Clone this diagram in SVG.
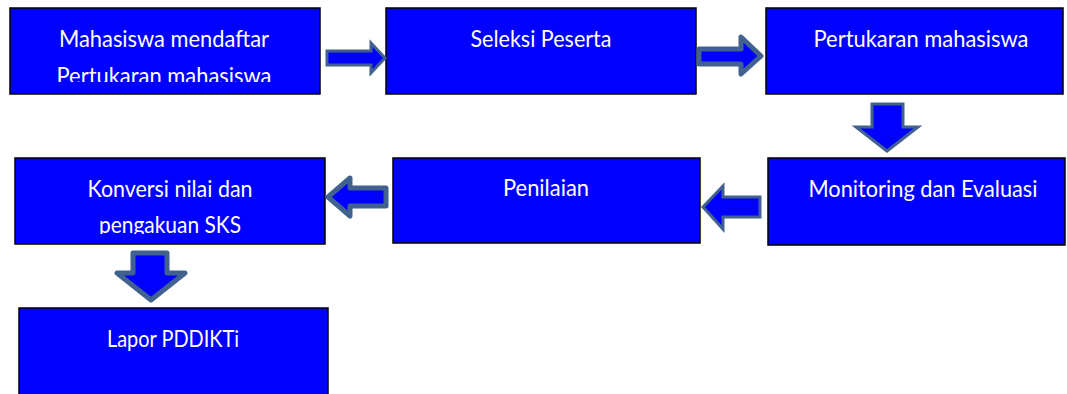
<svg xmlns="http://www.w3.org/2000/svg" width="1067" height="394" viewBox="0 0 1067 394">
<style>
.box{fill:#0000ff;stroke:#000;stroke-width:1.5}
.t{fill:#fff;font-family:Lato,"Open Sans","Liberation Sans",sans-serif;font-size:24px;text-anchor:middle}
.arr{fill:#0000ff;stroke:#41618f;stroke-width:3;stroke-linejoin:miter}
.arr2{fill:#0000ff;stroke:#41618f;stroke-width:5;stroke-linejoin:round}
</style>
<defs>
<clipPath id="c1"><rect x="10" y="8" width="310" height="74"/></clipPath>
<clipPath id="c4"><rect x="15" y="158" width="310" height="76"/></clipPath>
</defs>
<rect width="1067" height="394" fill="#fff"/>
<g id="n1">
<rect class="box" x="10" y="8" width="310" height="86"/>
<g clip-path="url(#c1)">
<text class="t" x="164" y="47" textLength="210" lengthAdjust="spacingAndGlyphs">Mahasiswa mendaftar</text>
<text class="t" x="164" y="84" textLength="215" lengthAdjust="spacingAndGlyphs">Pertukaran mahasiswa</text>
</g>
</g>
<g id="n2">
<rect class="box" x="386" y="8" width="310" height="86"/>
<text class="t" x="541" y="47" textLength="141" lengthAdjust="spacingAndGlyphs">Seleksi Peserta</text>
</g>
<g id="n3">
<rect class="box" x="766" y="8" width="297" height="86"/>
<text class="t" x="921" y="47" textLength="215" lengthAdjust="spacingAndGlyphs">Pertukaran mahasiswa</text>
</g>
<g id="n4">
<rect class="box" x="15" y="158" width="310" height="86"/>
<g clip-path="url(#c4)">
<text class="t" x="170" y="197" textLength="165" lengthAdjust="spacingAndGlyphs">Konversi nilai dan</text>
<text class="t" x="170" y="233" textLength="142" lengthAdjust="spacingAndGlyphs">pengakuan SKS</text>
</g>
</g>
<g id="n5">
<rect class="box" x="393" y="158" width="307" height="85"/>
<text class="t" x="546" y="196" textLength="86" lengthAdjust="spacingAndGlyphs">Penilaian</text>
</g>
<g id="n6">
<rect class="box" x="768" y="158" width="297" height="87"/>
<text class="t" x="923" y="197" textLength="229" lengthAdjust="spacingAndGlyphs">Monitoring dan Evaluasi</text>
</g>
<g id="n7">
<rect class="box" x="19" y="308" width="309" height="90"/>
<text class="t" x="173" y="347" textLength="132" lengthAdjust="spacingAndGlyphs">Lapor PDDIKTi</text>
</g>
<g id="connectors">
<polygon class="arr" points="327,51 371,51 371,43 385,58 371,73 371,65 327,65"/>
<polygon class="arr2" points="699,49 741,49 741,37 761,56 741,74 741,64 699,64"/>
<polygon class="arr" points="872,104 903,104 903,127 918,127 887,151 856,127 872,127"/>
<polygon class="arr" points="760,197 723,197 723,186 703,207 723,229 723,217 760,217"/>
<polygon class="arr2" points="386,188 350,188 350,178 328,197 350,216 350,206 386,206"/>
<polygon class="arr2" points="133,253 167,253 167,273 185,273 151,300 117,273 133,273"/>
</g>
</svg>
